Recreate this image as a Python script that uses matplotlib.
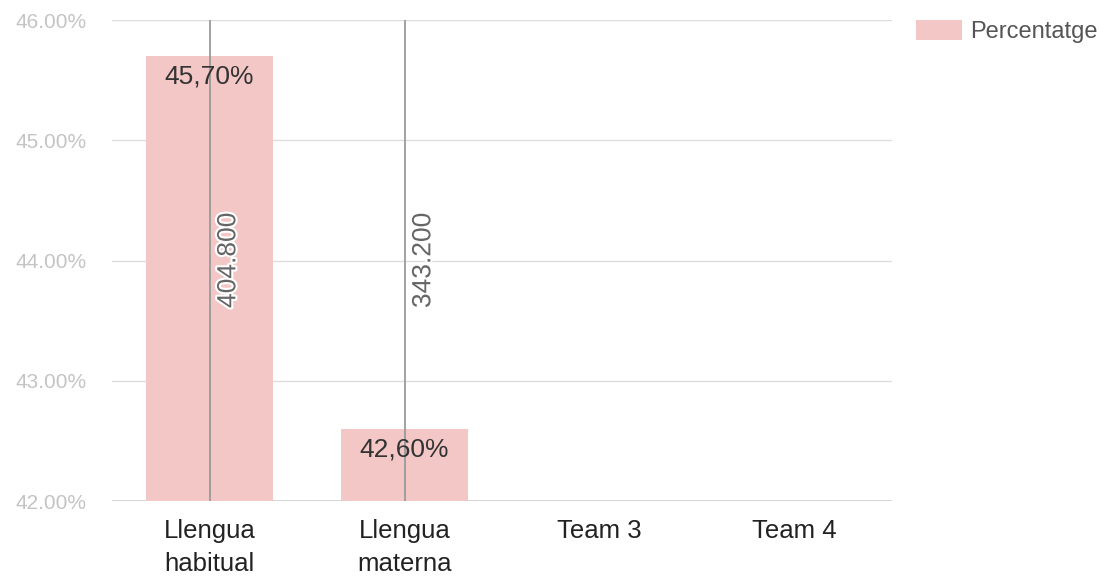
import matplotlib
matplotlib.use("Agg")
import matplotlib.pyplot as plt
import matplotlib.patheffects as pe
import numpy as np

categories = ["Llengua\nhabitual", "Llengua\nmaterna", "Team 3", "Team 4"]
percentages = [45.70, 42.60, np.nan, np.nan]
counts = [404800, 343200, np.nan, np.nan]
y_ticks = [42, 43, 44, 45, 46]
series_name = "Percentatge"

plt.rcParams['font.family'] = ['Liberation Sans', 'DejaVu Sans']

fig = plt.figure(figsize=(10.99, 5.77), dpi=100)
ax = fig.add_axes([0.102, 0.1317, 0.7097, 0.8336])

x = np.arange(len(categories))
bars = ax.bar(x, percentages, width=0.65, color='#f4c7c7', zorder=2, label=series_name)

ax.set_ylim(42, 46)
ax.set_xlim(-0.5, len(categories) - 0.5)
ax.set_yticks(y_ticks)
ax.set_yticklabels([f"{v:.2f}%" for v in y_ticks], color='#c4c4c4', fontsize=15)
ax.set_xticks(x)
ax.set_xticklabels(categories, fontsize=18.5, color='#222222', linespacing=1.45)
ax.tick_params(axis='both', length=0)
ax.tick_params(axis='y', pad=18.5)
ax.tick_params(axis='x', pad=13)
ax.grid(axis='y', color='#dddddd', linewidth=1, zorder=0)
for s in ax.spines.values():
    s.set_visible(False)
ax.axhline(42, color='#cccccc', linewidth=1.2, zorder=1)

for xi, p, c in zip(x, percentages, counts):
    if np.isnan(p):
        continue
    ax.annotate(f"{p:.2f}%".replace('.', ','), xy=(xi, p), xytext=(0, -6),
                textcoords='offset points', ha='center', va='top',
                fontsize=19, color='#333333', zorder=4)
    ax.vlines(xi, 42, 46, color='#9a9a9a', linewidth=1.3, zorder=3)
    ax.annotate(f"{int(c):,}".replace(',', '.'), xy=(xi, 44), xytext=(13.5, 0),
                textcoords='offset points', ha='center', va='center', rotation=90,
                fontsize=19, color='#666666', zorder=4,
                path_effects=[pe.withStroke(linewidth=3, foreground='white')])

leg = fig.legend(loc='upper left', bbox_to_anchor=(916 / 1099, 1 - 20 / 577), frameon=False,
                 fontsize=17, handlelength=1.95, handleheight=0.93, handletextpad=0.34,
                 borderpad=0, borderaxespad=0)
for t in leg.get_texts():
    t.set_color('#555555')

fig.savefig("out.png", dpi=100)
